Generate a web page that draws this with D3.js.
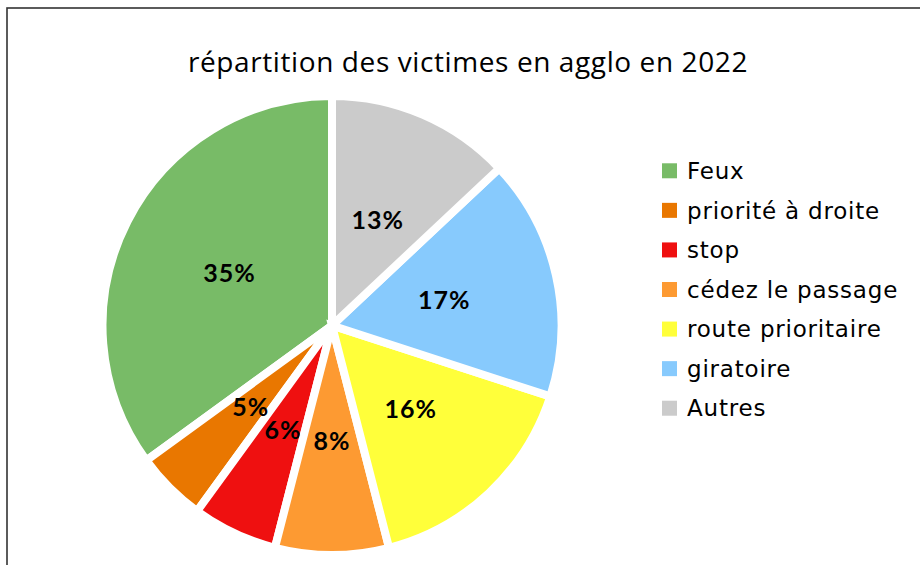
<!DOCTYPE html>
<html lang="fr">
<head>
    <meta charset="UTF-8">
    <title>répartition des victimes en agglo en 2022</title>
    <script src="https://d3js.org/d3.v7.min.js"></script>
    <style>
        body {
            margin: 0;
            background: white;
        }

        .titre {
            font-size: 28px;
            font-family: "Open Sans", sans-serif;
            font-weight: 400;
            letter-spacing: 0.6px;
        }

        .pct {
            font-size: 25px;
            font-family: "Lato", sans-serif;
            font-weight: 700;
            letter-spacing: 1px;
        }

        .legende {
            font-size: 23px;
            font-family: "DejaVu Sans", sans-serif;
            letter-spacing: 0.8px;
        }
    </style>
</head>
<body>
<svg width="920" height="565"></svg>

<script type="application/javascript">

    const categories = ["Feux", "priorité à droite", "stop", "cédez le passage",
        "route prioritaire", "giratoire", "Autres"]
    const valeurs = [35, 5, 6, 8, 16, 17, 13]
    const couleurs = ["#78bb67", "#e97700", "#ef1010", "#fd9a32", "#ffff3a", "#87cafd", "#cbcbcb"]

    const data = categories.map(function (c, i) {
        return {nom: c, valeur: valeurs[i], couleur: couleurs[i]}
    })

    const svg = d3.select("svg")

    // cadre
    svg.append("rect")
        .attr("x", 7)
        .attr("y", 8)
        .attr("width", 940)
        .attr("height", 600)
        .attr("fill", "white")
        .attr("stroke", "#333")
        .attr("stroke-width", 1.6)

    // titre
    svg.append("text")
        .attr("class", "titre")
        .attr("x", 468)
        .attr("y", 72)
        .attr("text-anchor", "middle")
        .text("répartition des victimes en agglo en 2022")

    const cx = 332, cy = 325.5, rayon = 229.5

    // sens anti-horaire depuis midi
    const pie = d3.pie()
        .value(function (d) {
            return d.valeur
        })
        .sort(null)
        .startAngle(0)
        .endAngle(-2 * Math.PI)

    const arc = d3.arc().innerRadius(0).outerRadius(rayon)
    const arcLabel = d3.arc().innerRadius(115).outerRadius(115)

    const g = svg.append("g")
        .attr("transform", "translate(" + cx + "," + cy + ")")

    g.selectAll("path")
        .data(pie(data))
        .enter()
        .append("path")
        .attr("d", arc)
        .attr("fill", function (d) {
            return d.data.couleur
        })
        .attr("stroke", "white")
        .attr("stroke-width", 8)
        .attr("stroke-linejoin", "miter")

    g.selectAll("text")
        .data(pie(data))
        .enter()
        .append("text")
        .attr("class", "pct")
        .attr("text-anchor", "middle")
        .attr("dy", "0.36em")
        .attr("transform", function (d) {
            return "translate(" + arcLabel.centroid(d) + ")"
        })
        .text(function (d) {
            return d.data.valeur + "%"
        })

    // légende
    const y = d3.scaleBand()
        .domain(categories)
        .range([151, 428])

    const leg = svg.selectAll(".leg")
        .data(data)
        .enter()
        .append("g")
        .attr("class", "leg")
        .attr("transform", function (d) {
            return "translate(662," + (y(d.nom) + y.bandwidth() / 2) + ")"
        })

    leg.append("rect")
        .attr("x", 0)
        .attr("y", -7.5)
        .attr("width", 15)
        .attr("height", 15)
        .attr("fill", function (d) {
            return d.couleur
        })

    leg.append("text")
        .attr("class", "legende")
        .attr("x", 25)
        .attr("dy", "0.36em")
        .text(function (d) {
            return d.nom
        })

</script>
</body>
</html>
